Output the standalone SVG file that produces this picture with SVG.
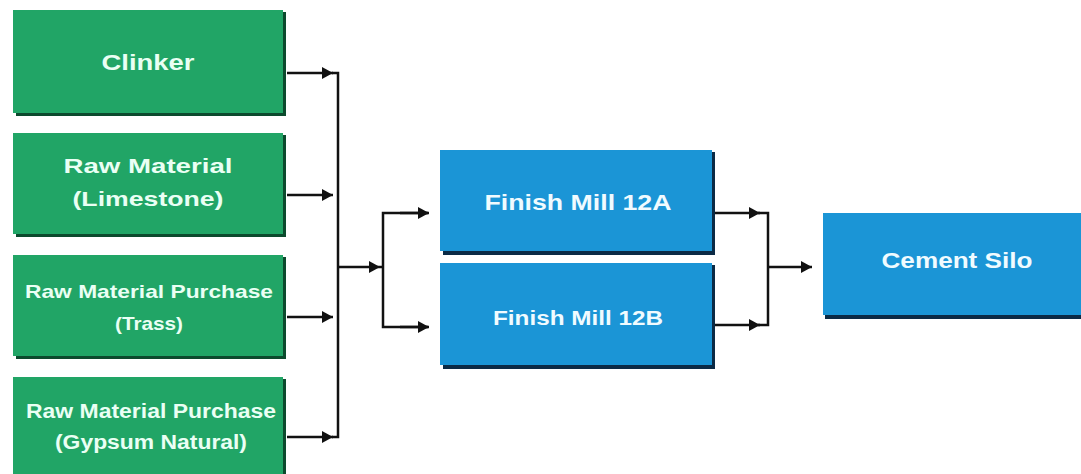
<svg xmlns="http://www.w3.org/2000/svg" width="1081" height="474" viewBox="0 0 1081 474">
<defs>
<marker id="ah" markerUnits="userSpaceOnUse" markerWidth="12" markerHeight="12" refX="11" refY="6" orient="auto">
<path d="M0,0 L11,6 L0,12 Z" fill="#111"/>
</marker>
<style>
.gsh{fill:#0c4a2d}
.g{fill:#21a566}
.bsh{fill:#0b2a45}
.b{fill:#1b95d6}
.t{font-family:"Liberation Sans",Arial,sans-serif;font-weight:bold;fill:#eafff4;text-anchor:middle}
.tb{font-family:"Liberation Sans",Arial,sans-serif;font-weight:bold;fill:#f0fbff;text-anchor:middle}
.c{fill:none;stroke:#111;stroke-width:2.5}
</style>
</defs>
<rect width="1081" height="474" fill="#ffffff"/>
<g id="clinker">
<rect class="gsh" x="16" y="12" width="270" height="104"/>
<rect class="g" x="13" y="10" width="270" height="103"/>
<text class="t" x="148" y="70" font-size="22" textLength="93" lengthAdjust="spacingAndGlyphs">Clinker</text>
</g>
<g id="limestone">
<rect class="gsh" x="16" y="135" width="270" height="102"/>
<rect class="g" x="13" y="133" width="270" height="101"/>
<text class="t" x="148" y="173" font-size="21" textLength="169" lengthAdjust="spacingAndGlyphs">Raw Material</text>
<text class="t" x="148" y="206" font-size="21" textLength="151" lengthAdjust="spacingAndGlyphs">(Limestone)</text>
</g>
<g id="trass">
<rect class="gsh" x="16" y="257" width="270" height="102"/>
<rect class="g" x="13" y="255" width="270" height="101"/>
<text class="t" x="149" y="298" font-size="19" textLength="248" lengthAdjust="spacingAndGlyphs">Raw Material Purchase</text>
<text class="t" x="149" y="330" font-size="19" textLength="68" lengthAdjust="spacingAndGlyphs">(Trass)</text>
</g>
<g id="gypsum">
<rect class="gsh" x="16" y="379" width="270" height="100"/>
<rect class="g" x="13" y="377" width="270" height="100"/>
<text class="t" x="151" y="418" font-size="20" textLength="250" lengthAdjust="spacingAndGlyphs">Raw Material Purchase</text>
<text class="t" x="151" y="449" font-size="20" textLength="192" lengthAdjust="spacingAndGlyphs">(Gypsum Natural)</text>
</g>
<g id="mill12a">
<rect class="bsh" x="443" y="152" width="272" height="103"/>
<rect class="b" x="440" y="150" width="272" height="101"/>
<text class="tb" x="578" y="210" font-size="22" textLength="187" lengthAdjust="spacingAndGlyphs">Finish Mill 12A</text>
</g>
<g id="mill12b">
<rect class="bsh" x="443" y="265" width="272" height="104"/>
<rect class="b" x="440" y="263" width="272" height="102"/>
<text class="tb" x="578" y="325" font-size="20" textLength="170" lengthAdjust="spacingAndGlyphs">Finish Mill 12B</text>
</g>
<g id="silo">
<rect class="bsh" x="825" y="215" width="260" height="104"/>
<rect class="b" x="823" y="213" width="260" height="102"/>
<text class="tb" x="957" y="268" font-size="22" textLength="151" lengthAdjust="spacingAndGlyphs">Cement Silo</text>
</g>
<g id="connectors">
<path class="c" d="M287,73 H333" marker-end="url(#ah)"/>
<path class="c" d="M287,195 H333" marker-end="url(#ah)"/>
<path class="c" d="M287,317 H333" marker-end="url(#ah)"/>
<path class="c" d="M287,437 H333" marker-end="url(#ah)"/>
<path class="c" d="M332,73 H338 V437 H332"/>
<path class="c" d="M338,267 H380" marker-end="url(#ah)"/>
<path class="c" d="M380,267 H383"/>
<path class="c" d="M428,213 H383 V327 H428"/>
<path class="c" d="M400,213 H429" marker-end="url(#ah)"/>
<path class="c" d="M400,327 H429" marker-end="url(#ah)"/>
<path class="c" d="M715,213 H760" marker-end="url(#ah)"/>
<path class="c" d="M715,325 H760" marker-end="url(#ah)"/>
<path class="c" d="M758,213 H768 V325 H758"/>
<path class="c" d="M768,267 H812" marker-end="url(#ah)"/>
</g>
</svg>
